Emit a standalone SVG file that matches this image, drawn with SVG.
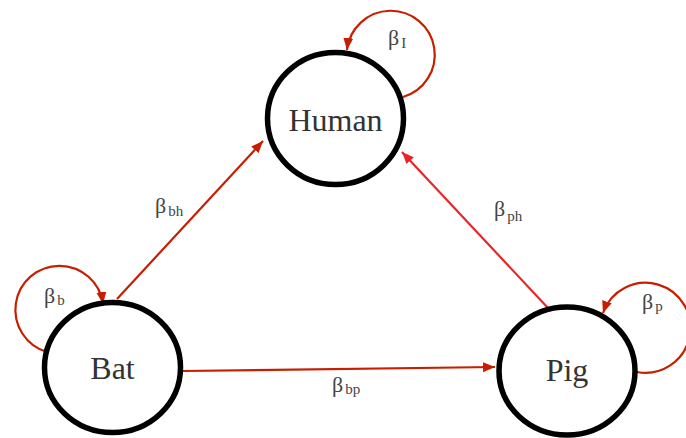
<svg xmlns="http://www.w3.org/2000/svg" width="686" height="438" viewBox="0 0 686 438">
<style>
.node{fill:#fff;stroke:#000;stroke-width:5.5}
.lbl{font-family:"Liberation Serif",serif;font-size:32px;fill:#333;text-anchor:middle}
.b{font-family:"Liberation Serif",serif;font-size:22px;fill:#444}
.s{font-size:15px}
.e{fill:none;stroke:#c81e00;stroke-width:2.2}
.e2{fill:none;stroke:#e8262a;stroke-width:2.2}
</style>
<defs>
<marker id="ah" markerUnits="userSpaceOnUse" markerWidth="14" markerHeight="12" refX="12" refY="5" orient="auto"><path d="M0,0 L12,5 L0,10 z" fill="#c81e00"/></marker>
<marker id="ah2" markerUnits="userSpaceOnUse" markerWidth="14" markerHeight="12" refX="12" refY="5" orient="auto"><path d="M0,0 L12,5 L0,10 z" fill="#e8262a"/></marker>
</defs>
<g id="connectors">
<path class="e" d="M117 299 L263 141" marker-end="url(#ah)"/>
<path class="e" d="M183 371 L495 367" marker-end="url(#ah)"/>
<path class="e2" d="M548 308 L402 152" marker-end="url(#ah2)"/>
<path class="e" d="M403 97 A44 44 0 1 0 347 50" marker-end="url(#ah)"/>
<path class="e" d="M47 352 A44 44 0 1 1 103 304" marker-end="url(#ah)"/>
<path class="e" d="M637 372 A45 45 0 1 0 603 313" marker-end="url(#ah)"/>
</g>
<g id="human"><ellipse class="node" cx="335.5" cy="118.5" rx="68" ry="66"/><text class="lbl" x="335.5" y="131">Human</text></g>
<g id="bat"><ellipse class="node" cx="112.5" cy="367.5" rx="68" ry="65"/><text class="lbl" x="112.5" y="379">Bat</text></g>
<g id="pig"><ellipse class="node" cx="567" cy="371" rx="68" ry="64"/><text class="lbl" x="567" y="381">Pig</text></g>
<g id="labels">
<text class="b" x="388" y="45">β<tspan class="s" dx="2" dy="3">I</tspan></text>
<text class="b" x="155" y="213">β<tspan class="s" dx="2" dy="3">bh</tspan></text>
<text class="b" x="494" y="216">β<tspan class="s" dx="2" dy="5">ph</tspan></text>
<text class="b" x="332" y="392">β<tspan class="s" dx="2" dy="2">bp</tspan></text>
<text class="b" x="44" y="303">β<tspan class="s" dx="2" dy="2">b</tspan></text>
<text class="b" x="642" y="309">β<tspan class="s" dx="2" dy="2">p</tspan></text>
</g>
</svg>
